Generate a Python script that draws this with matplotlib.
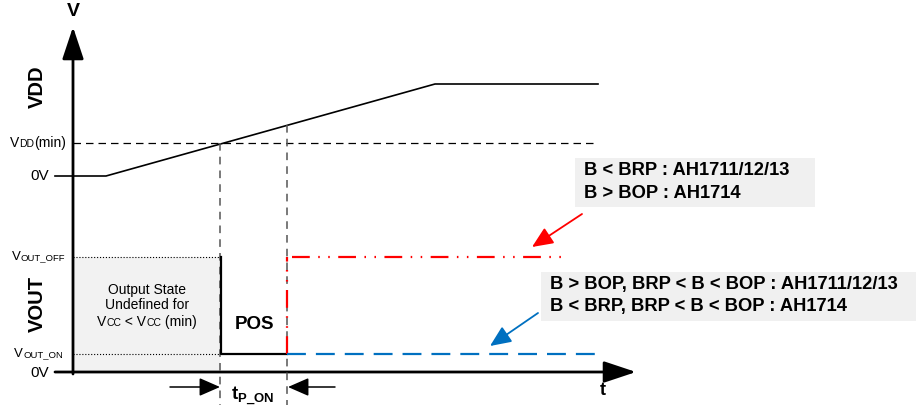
import matplotlib.pyplot as plt
from matplotlib.patches import Rectangle, FancyArrowPatch
from matplotlib.offsetbox import TextArea, HPacker, AnnotationBbox

plt.rcParams['font.family'] = ['Liberation Sans', 'DejaVu Sans']
plt.rcParams['mathtext.fontset'] = 'custom'
plt.rcParams['mathtext.bf'] = 'Liberation Sans:bold'
plt.rcParams['mathtext.rm'] = 'Liberation Sans'

# diagram levels (drawing units, y grows downward)
vdd_t = [73, 106, 435, 598]
vdd_v = [176, 176, 84, 84]
t_axis = 73
t_vddmin = 220
t_pon = 287
t_end = 598
t_red_end = 565
y_vddmin = 143
y_vdd_zero = 176
y_off = 257
y_on = 354
y_zero = 372

red_note = ['B < BRP : AH1711/12/13', 'B > BOP : AH1714']
blue_note = ['B > BOP, BRP < B < BOP : AH1711/12/13', 'B < BRP, BRP < B < BOP : AH1714']

fig = plt.figure(figsize=(9.22, 4.11), dpi=100)
ax = fig.add_axes([0, 0, 1, 1])
ax.set_xlim(0, 922)
ax.set_ylim(411, 0)
ax.axis('off')

def arrow(p0, p1, color='black', lw=1.5, ms=18, style='-|>,head_length=0.8,head_width=0.35'):
    ax.add_patch(FancyArrowPatch(p0, p1, arrowstyle=style, mutation_scale=ms,
                                 color=color, lw=lw, shrinkA=0, shrinkB=0))

def multi(pieces, xy, align=(1, 0.5), weight='normal'):
    kids = [TextArea(s, textprops=dict(fontsize=fs, fontweight=weight)) for s, fs in pieces]
    box = HPacker(children=kids, align='baseline', pad=0, sep=0)
    ab = AnnotationBbox(box, xy, xycoords='data', box_alignment=align, frameon=False, pad=0)
    ax.add_artist(ab)

# axes
arrow((t_axis, y_zero + 2), (t_axis, 27), lw=2, ms=22, style='-|>,head_length=0.9,head_width=0.3')
arrow((55, y_zero), (636, y_zero), lw=2, ms=22, style='-|>,head_length=0.9,head_width=0.3')
ax.plot([55, t_axis], [y_vdd_zero, y_vdd_zero], color='black', lw=1.2)
ax.text(t_axis, 12, 'V', fontsize=14, fontweight='bold', ha='center', va='center')
ax.text(603, 390, 't', fontsize=13, fontweight='bold', ha='center', va='center')

# VDD ramp
ax.plot(vdd_t, vdd_v, color='black', lw=1.2)
ax.plot([t_axis, t_end], [y_vddmin, y_vddmin], color='black', lw=0.9, dashes=(6, 4))
ax.plot([t_vddmin, t_vddmin], [y_vddmin, 405], color='#555555', lw=1.1, dashes=(5, 4))
ax.plot([t_pon, t_pon], [125, 405], color='#555555', lw=1.1, dashes=(5, 4))

# undefined region
ax.add_patch(Rectangle((t_axis, y_off), t_vddmin - t_axis, y_zero - y_off,
                       facecolor='#F2F2F2', edgecolor='none', zorder=0))
ax.plot([t_axis, t_vddmin], [y_off, y_off], color='black', lw=0.8, ls=':')
ax.plot([t_axis, t_vddmin], [y_on, y_on], color='black', lw=0.8, ls=':')
ax.plot([t_vddmin + 1, t_vddmin + 1, t_pon], [y_off, y_on, y_on], color='black', lw=1.6)

# output traces
ax.plot([t_pon, t_pon], [y_on, y_off], color='#FF0000', lw=1.6,
        dashes=(8, 3.8, 0.7, 3.8, 0.7, 3.8))
ax.plot([t_pon + 5, t_red_end], [y_off, y_off], color='#FF0000', lw=1.6,
        dashes=(8, 3.8, 0.7, 3.8, 0.7, 3.8))
ax.plot([t_pon, t_end], [y_on, y_on], color='#0070C0', lw=1.6, dashes=(8.5, 4.5))

# tP_ON arrows
arrow((170, 387), (t_vddmin, 387), lw=1.1, ms=16)
arrow((335, 387), (t_pon + 1, 387), lw=1.1, ms=16)
ax.text(253, 396, r'$\mathbf{t_{P\_ON}}$', fontsize=13.5, ha='center', va='center')

# left labels
ax.text(37, 87, 'VDD', fontsize=14.5, fontweight='bold', rotation=90, ha='center', va='center')
ax.text(37, 304, 'VOUT', fontsize=14.5, fontweight='bold', rotation=90, ha='center', va='center')
multi([('V', 10), ('DD', 7.5), ('(min)', 10)], (66, y_vddmin))
ax.text(49, y_vdd_zero, '0V', fontsize=11, ha='right', va='center')
multi([('V', 9.5), ('OUT_OFF', 6.8)], (65, y_off))
multi([('V', 9.5), ('OUT_ON', 6.8)], (63, y_on))
ax.text(49, y_zero + 1, '0V', fontsize=11, ha='right', va='center')
ax.plot([55, t_axis], [y_zero, y_zero], color='black', lw=1.2)

ax.text(147, 290, 'Output State', fontsize=10, ha='center', va='center')
ax.text(147, 305, 'Undefined for', fontsize=10, ha='center', va='center')
multi([('V', 10), ('CC', 7.5), (' < V', 10), ('CC', 7.5), (' (min)', 10)], (147, 322), align=(0.5, 0.5))
ax.text(254, 324, 'POS', fontsize=13.5, fontweight='bold', ha='center', va='center')

# notes
ax.add_patch(Rectangle((575, 158), 240, 49, facecolor='#F0F0F0', edgecolor='none'))
ax.text(584, 170, red_note[0], fontsize=13.2, fontweight='bold', va='center')
ax.text(584, 193, red_note[1], fontsize=13.2, fontweight='bold', va='center')
arrow((582, 214), (532, 247), color='#FF0000', lw=1.3, ms=16)

ax.add_patch(Rectangle((541, 272), 375, 49, facecolor='#F0F0F0', edgecolor='none'))
ax.text(550, 284, blue_note[0], fontsize=13.2, fontweight='bold', va='center')
ax.text(550, 306, blue_note[1], fontsize=13.2, fontweight='bold', va='center')
arrow((538, 313), (490, 346), color='#0070C0', lw=1.3, ms=16)

fig.savefig('out.png', dpi=100)
